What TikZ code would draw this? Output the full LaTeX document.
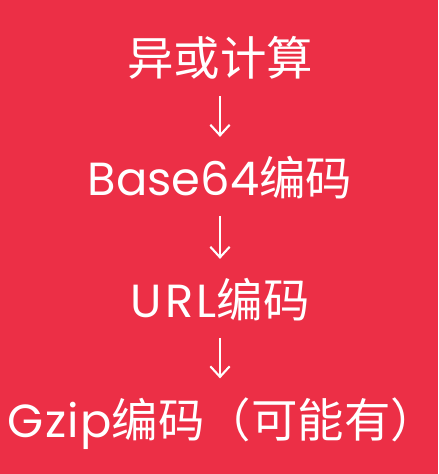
\documentclass[tikz,border=0pt]{standalone}
\usepackage{fontspec}
\setmainfont{Poppins}
\newfontfamily\cjk{Noto Sans CJK SC}
\usetikzlibrary{arrows.meta}
\definecolor{bgred}{RGB}{236,47,70}

\begin{document}
\begin{tikzpicture}[x=0.01cm, y=-0.01cm,
		every node/.style={text=white, inner sep=0pt, font=\fontsize{13.2}{15}\selectfont},
		flow/.style={draw=white, line width=0.6pt, -{Straight Barb[length=3pt, width=5.5pt]}, shorten <=4.5pt, shorten >=5.4pt}]
		\useasboundingbox (0,0) rectangle (438,474);
		\fill[bgred] (0,0) rectangle (438,474);
		
		\node (xor) at (220,58) {\cjk 异或计算};
		\node (b64) at (220,178) {Base64{\cjk 编码}};
		\node (url) at (220,300) {{\addfontfeature{LetterSpace=7}URL}{\cjk 编码}};
		\node[anchor=west] (gzip) at (7,424) {{\addfontfeature{LetterSpace=3}Gzip}{\cjk 编码（可能有）}};
		
		% Draw edges
		\draw[flow] (xor) -- (xor |- b64.north);
		\draw[flow] (b64) -- (b64 |- url.north);
		\draw[flow] (url) -- (url |- gzip.north);
	\end{tikzpicture}
\end{document}
